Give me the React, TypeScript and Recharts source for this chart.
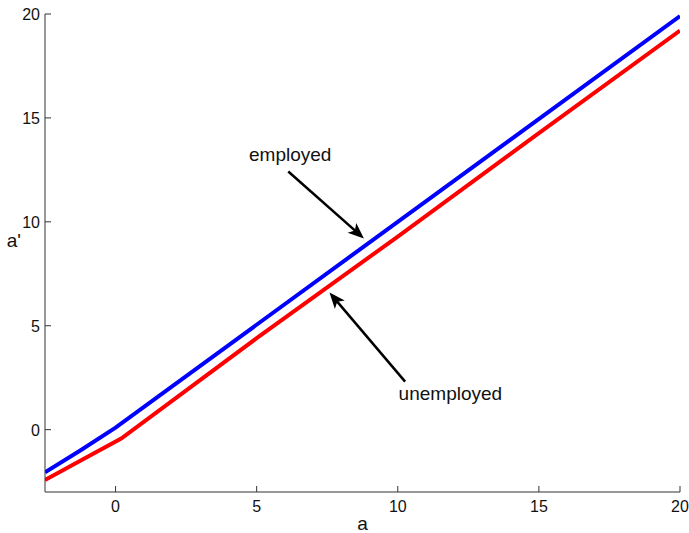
import React from 'react';
import { LineChart, Line, XAxis, YAxis, ReferenceLine, ReferenceDot, Label } from 'recharts';

// Next-period assets a' as a function of current assets a
const employedA = [-2.5, -1.25, 0, 20];
const employedNext = [-2.05, -1.0, 0.1, 19.9];

const unemployedA = [-2.5, -1.25, 0.2, 5, 10, 15, 20];
const unemployedNext = [-2.42, -1.5, -0.43, 4.4, 9.29, 14.27, 19.2];

const xTicks = [0, 5, 10, 15, 20];
const yTicks = [0, 5, 10, 15, 20];

// Annotation anchors in data units
const employedLabel = { x: 4.73, y: 12.95, text: 'employed' };
const employedArrow = { from: { x: 6.12, y: 12.42 }, to: { x: 8.8, y: 9.2 } };
const unemployedLabel = { x: 10.03, y: 1.45, text: 'unemployed' };
const unemployedArrow = { from: { x: 10.26, y: 2.31 }, to: { x: 7.58, y: 6.6 } };

const employedData = employedA.map((a, i) => ({ a, v: employedNext[i] }));
const unemployedData = unemployedA.map((a, i) => ({ a, v: unemployedNext[i] }));

const FONT = 'Liberation Sans, Arial, Helvetica, sans-serif';
const AXIS = '#333';

const XTick = (props: any) => {
  const { x, y, payload } = props;
  return (
    <g>
      <line x1={x} x2={x} y1={y} y2={y - 6} stroke={AXIS} strokeWidth={1} />
      <text x={x} y={y + 20} textAnchor="middle" fontSize={16} fontFamily={FONT} fill="#111">
        {payload.value}
      </text>
    </g>
  );
};

const YTick = (props: any) => {
  const { x, y, payload } = props;
  return (
    <g>
      <line x1={x} x2={x + 6} y1={y} y2={y} stroke={AXIS} strokeWidth={1} />
      <text x={x - 5} y={y + 6} textAnchor="end" fontSize={16} fontFamily={FONT} fill="#111">
        {payload.value}
      </text>
    </g>
  );
};

const Arrow = (props: any) => {
  const { x1, y1, x2, y2 } = props;
  const dx = x2 - x1;
  const dy = y2 - y1;
  const len = Math.sqrt(dx * dx + dy * dy);
  const ux = dx / len;
  const uy = dy / len;
  const head = 16;
  const half = 6.5;
  const bx = x2 - ux * head;
  const by = y2 - uy * head;
  const nx = -uy;
  const ny = ux;
  const pts = `${x2},${y2} ${bx + nx * half},${by + ny * half} ${x2 - ux * (head - 4)},${y2 - uy * (head - 4)} ${bx - nx * half},${by - ny * half}`;
  return (
    <g>
      <line x1={x1} y1={y1} x2={x2 - ux * 8} y2={y2 - uy * 8} stroke="#000" strokeWidth={2.5} />
      <polygon points={pts} fill="#000" />
    </g>
  );
};

const makeText = (text: string) => (props: any) => (
  <text x={props.cx} y={props.cy} fontSize={19} fontFamily={FONT} fill="#111" textAnchor="start">
    {text}
  </text>
);

export default function App() {
  return (
    <div style={{ position: 'absolute', left: 0, top: 0, background: '#fff' }}>
      <LineChart width={689} height={533} margin={{ top: 14, right: 9, bottom: 40, left: 44 }}>
        <XAxis
          type="number"
          dataKey="a"
          domain={[-2.5, 20]}
          ticks={xTicks}
          allowDataOverflow
          height={1}
          tickSize={0}
          tickMargin={0}
          tickLine={false}
          axisLine={{ stroke: AXIS, strokeWidth: 1 }}
          tick={<XTick />}
        >
          <Label value="a" position="bottom" offset={24} fontSize={19} fontFamily={FONT} fill="#111" />
        </XAxis>
        <YAxis
          type="number"
          dataKey="v"
          domain={[-3, 20]}
          ticks={yTicks}
          allowDataOverflow
          width={1}
          tickSize={0}
          tickMargin={0}
          tickLine={false}
          axisLine={{ stroke: AXIS, strokeWidth: 1 }}
          tick={<YTick />}
        >
          <Label value="a'" position="left" offset={23} dy={-13} fontSize={19} fontFamily={FONT} fill="#111" />
        </YAxis>
        <Line
          data={employedData}
          dataKey="v"
          type="linear"
          stroke="#0000ff"
          strokeWidth={4}
          dot={false}
          activeDot={false}
          isAnimationActive={false}
        />
        <Line
          data={unemployedData}
          dataKey="v"
          type="linear"
          stroke="#ff0000"
          strokeWidth={4}
          dot={false}
          activeDot={false}
          isAnimationActive={false}
        />
        <ReferenceLine
          segment={[employedArrow.from, employedArrow.to]}
          shape={Arrow}
        />
        <ReferenceLine
          segment={[unemployedArrow.from, unemployedArrow.to]}
          shape={Arrow}
        />
        <ReferenceDot x={employedLabel.x} y={employedLabel.y} r={0} shape={makeText(employedLabel.text)} />
        <ReferenceDot x={unemployedLabel.x} y={unemployedLabel.y} r={0} shape={makeText(unemployedLabel.text)} />
      </LineChart>
    </div>
  );
}
